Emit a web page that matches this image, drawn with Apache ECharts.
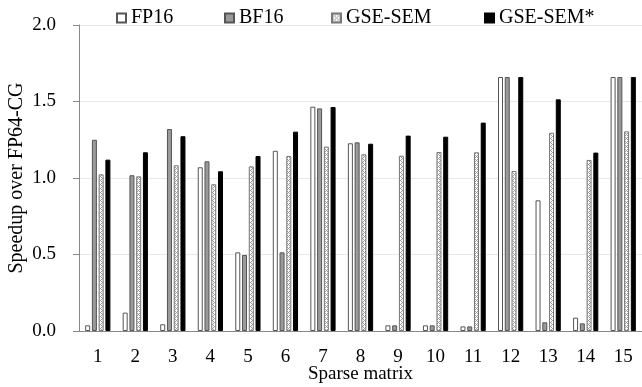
<!DOCTYPE html>
<html>
<head>
<meta charset="utf-8">
<script src="https://cdn.jsdelivr.net/npm/echarts@6/dist/echarts.min.js"></script>
<style>
  html, body { margin: 0; padding: 0; background: #fff; }
  #chart { width: 642px; height: 387px; }
</style>
</head>
<body>
<div id="chart"></div>
<script>
var categories = ['1', '2', '3', '4', '5', '6', '7', '8', '9', '10', '11', '12', '13', '14', '15'];
var fp16 = [0.037, 0.12, 0.044, 1.07, 0.514, 1.178, 1.466, 1.227, 0.037, 0.037, 0.03, 1.66, 0.854, 0.087, 1.66];
var bf16 = [1.25, 1.018, 1.32, 1.109, 0.497, 0.514, 1.455, 1.233, 0.037, 0.037, 0.03, 1.66, 0.057, 0.05, 1.66];
var gseSem = [1.024, 1.011, 1.083, 0.959, 1.076, 1.144, 1.205, 1.155, 1.146, 1.17, 1.168, 1.046, 1.296, 1.118, 1.305];
var gseSemStar = [1.12, 1.168, 1.273, 1.044, 1.144, 1.303, 1.464, 1.224, 1.277, 1.27, 1.362, 1.66, 1.514, 1.166, 1.66];
var seriesNames = ['FP16', 'BF16', 'GSE-SEM', 'GSE-SEM*'];

// 斜线填充
function makeHatch() {
  var c = document.createElement('canvas');
  c.width = 4;
  c.height = 4;
  var ctx = c.getContext('2d');
  ctx.fillStyle = '#ffffff';
  ctx.fillRect(0, 0, 4, 4);
  ctx.fillStyle = '#9a9a9a';
  var pts = [[0, 0], [1, 1], [2, 2], [3, 3], [3, 1], [1, 3]];
  pts.forEach(function (p) {
    ctx.fillRect(p[0], p[1], 1, 1);
  });
  return c;
}
var hatch = { image: makeHatch(), repeat: 'repeat' };

var font = 'Liberation Serif';

function bar(name, data, color, border) {
  return {
    name: name,
    type: 'bar',
    data: data,
    barWidth: 5,
    barGap: '35%',
    itemStyle: { color: color, borderColor: border, borderWidth: 1 }
  };
}

// 图例分开放置
var legendLeft = [111, 219, 326, 479];
var legends = seriesNames.map(function (n, i) {
  return {
    left: legendLeft[i],
    top: 3,
    icon: 'rect',
    itemWidth: 9,
    itemHeight: 9,
    textStyle: { fontFamily: font, fontSize: 20, color: '#000' },
    data: [n]
  };
});

var chart = echarts.init(document.getElementById('chart'));
chart.setOption({
  animation: false,
  textStyle: { fontFamily: font },
  legend: legends,
  grid: { left: 79, right: 0, top: 25, bottom: 56, outerBoundsMode: 'none' },
  xAxis: {
    type: 'category',
    data: categories,
    name: 'Sparse matrix',
    nameLocation: 'middle',
    nameGap: 34,
    nameMoveOverlap: false,
    nameTextStyle: { fontFamily: font, fontSize: 19, color: '#000' },
    axisLine: { lineStyle: { color: '#888' } },
    axisTick: { length: 6, lineStyle: { color: '#888' } },
    axisLabel: { fontFamily: font, fontSize: 19, color: '#000', margin: 17 }
  },
  yAxis: {
    type: 'value',
    min: 0,
    max: 2,
    interval: 0.5,
    name: 'Speedup over FP64-CG',
    nameLocation: 'middle',
    nameGap: 52,
    nameMoveOverlap: false,
    nameTextStyle: { fontFamily: font, fontSize: 20, color: '#000' },
    axisLine: { show: true, lineStyle: { color: '#888' } },
    axisTick: { show: true, length: 6, lineStyle: { color: '#888' } },
    axisLabel: {
      fontFamily: font, fontSize: 19, color: '#000', margin: 23,
      formatter: function (v) { return v.toFixed(1); }
    },
    splitLine: { lineStyle: { color: '#e8e8e8' } }
  },
  series: [
    bar(seriesNames[0], fp16, '#ffffff', '#555'),
    bar(seriesNames[1], bf16, '#9a9a9a', '#555'),
    bar(seriesNames[2], gseSem, hatch, '#777'),
    bar(seriesNames[3], gseSemStar, '#000000', '#000')
  ]
});
</script>
</body>
</html>
